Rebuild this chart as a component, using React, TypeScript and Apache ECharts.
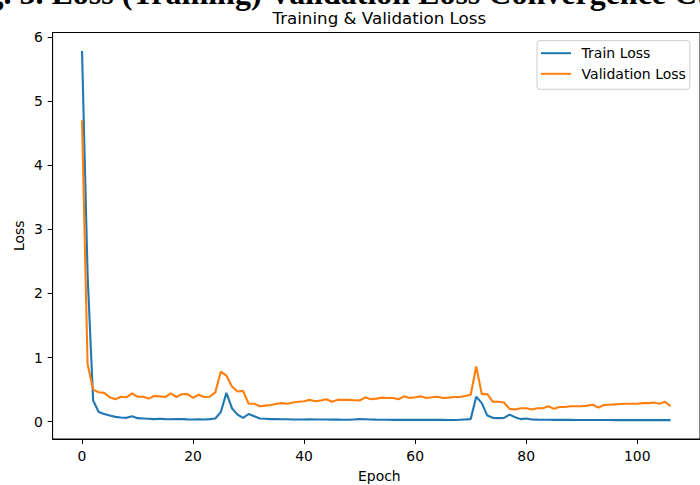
import React, { useEffect, useRef } from "react";
import * as echarts from "echarts";

const epochs: number[] = Array.from({ length: 107 }, (_, i) => i);

const trainLoss: number[] = [
  5.78, 2.3, 0.33, 0.15, 0.12, 0.095, 0.075, 0.065, 0.06, 0.085,
  0.055, 0.05, 0.045, 0.04, 0.045, 0.04, 0.038, 0.04, 0.04, 0.036,
  0.035, 0.036, 0.033, 0.04, 0.05, 0.15, 0.45, 0.21, 0.11, 0.06,
  0.12, 0.085, 0.05, 0.045, 0.04, 0.04, 0.038, 0.037, 0.035, 0.035,
  0.034, 0.038, 0.035, 0.033, 0.033, 0.032, 0.032, 0.031, 0.03, 0.035,
  0.04, 0.038, 0.035, 0.032, 0.03, 0.03, 0.029, 0.03, 0.029, 0.028,
  0.029, 0.028, 0.028, 0.029, 0.028, 0.028, 0.027, 0.027, 0.03, 0.035,
  0.04, 0.39, 0.29, 0.095, 0.06, 0.055, 0.06, 0.11, 0.07, 0.04,
  0.05, 0.035, 0.032, 0.03, 0.03, 0.029, 0.028, 0.028, 0.028, 0.027,
  0.027, 0.027, 0.026, 0.026, 0.026, 0.026, 0.025, 0.025, 0.025, 0.025,
  0.025, 0.025, 0.024, 0.024, 0.024, 0.024, 0.024,
];

const valLoss: number[] = [
  4.7, 0.9, 0.5, 0.46, 0.45, 0.38, 0.35, 0.39, 0.38, 0.44,
  0.39, 0.39, 0.36, 0.4, 0.395, 0.385, 0.44, 0.385, 0.43, 0.43,
  0.37, 0.42, 0.385, 0.39, 0.457, 0.78, 0.72, 0.55, 0.47, 0.48,
  0.28, 0.28, 0.24, 0.25, 0.26, 0.28, 0.29, 0.28, 0.3, 0.31,
  0.32, 0.34, 0.32, 0.33, 0.35, 0.31, 0.34, 0.34, 0.34, 0.335,
  0.33, 0.38, 0.35, 0.36, 0.375, 0.37, 0.37, 0.35, 0.395, 0.37,
  0.38, 0.395, 0.37, 0.38, 0.39, 0.37, 0.375, 0.385, 0.385, 0.4,
  0.42, 0.86, 0.43, 0.43, 0.31, 0.31, 0.3, 0.2, 0.19, 0.21,
  0.21, 0.19, 0.21, 0.21, 0.24, 0.2, 0.23, 0.23, 0.24, 0.24,
  0.24, 0.25, 0.265, 0.22, 0.26, 0.265, 0.27, 0.275, 0.28, 0.28,
  0.28, 0.29, 0.29, 0.3, 0.28, 0.31, 0.24,
];

const xTicks: number[] = [0, 20, 40, 60, 80, 100];
const yTicks: number[] = [0, 1, 2, 3, 4, 5, 6];

const seriesNames = ["Train Loss", "Validation Loss"];
const chartTitle = "Training & Validation Loss";
const xLabel = "Epoch";
const yLabel = "Loss";
const caption = "Fig. 5. Loss (Training) Validation Loss Convergence Curves";

const FONT = '"DejaVu Sans", sans-serif';

export default function App() {
  const ref = useRef<HTMLDivElement>(null);

  useEffect(() => {
    if (!ref.current) return;
    const chart = echarts.init(ref.current, null, { renderer: "svg" });
    const gridLeft = 52.6;
    const gridTop = 32.5;
    const gridW = 653.4;
    const gridH = 406.5;
    chart.setOption({
      animation: false,
      backgroundColor: "#ffffff",
      textStyle: { fontFamily: FONT },
      grid: {
        left: gridLeft,
        top: gridTop,
        width: gridW,
        height: gridH,
        show: true,
        borderColor: "#000000",
        borderWidth: 1,
        backgroundColor: "transparent",
        containLabel: false,
      },
      xAxis: {
        type: "value",
        min: -5.3,
        max: 111.3,
        splitLine: { show: false },
        axisLine: { show: true, onZero: false, lineStyle: { color: "#000", width: 1 } },
        axisTick: {
          show: true,
          inside: false,
          length: 4.9,
          customValues: xTicks,
          lineStyle: { color: "#000", width: 1 },
        },
        axisLabel: {
          customValues: xTicks,
          margin: 9.7,
          color: "#000",
          fontSize: 13.9,
          fontFamily: FONT,
        },
      },
      yAxis: {
        type: "value",
        min: -0.27,
        max: 6.07,
        splitLine: { show: false },
        axisLine: { show: true, onZero: false, lineStyle: { color: "#000", width: 1 } },
        axisTick: {
          show: true,
          inside: false,
          length: 4.9,
          customValues: yTicks,
          lineStyle: { color: "#000", width: 1 },
        },
        axisLabel: {
          customValues: yTicks,
          margin: 9.7,
          color: "#000",
          fontSize: 13.9,
          fontFamily: FONT,
        },
      },
      legend: {
        data: seriesNames,
        orient: "vertical",
        left: 537,
        top: 40.7,
        icon: "rect",
        itemWidth: 30,
        itemHeight: 2,
        itemGap: 3.6,
        padding: [4, 4, 7, 4],
        borderColor: "#cccccc",
        borderWidth: 1,
        borderRadius: 3,
        backgroundColor: "rgba(255,255,255,0.8)",
        selectedMode: false,
        textStyle: {
          fontFamily: FONT,
          fontSize: 14,
          color: "#000",
          lineHeight: 17,
          padding: [0, 0, 0, 5.6],
        },
      },
      graphic: [
        {
          type: "text",
          x: -41,
          y: -7,
          silent: true,
          style: {
            text: caption,
            fontFamily: '"Liberation Serif", serif',
            fontWeight: "bold",
            fontSize: 32,
            fill: "#000",
            align: "left",
            verticalAlign: "middle",
          },
        },
        {
          type: "text",
          x: gridLeft + gridW / 2,
          y: 18,
          silent: true,
          style: {
            text: chartTitle,
            fontFamily: FONT,
            fontSize: 16.7,
            fill: "#000",
            align: "center",
            verticalAlign: "middle",
          },
        },
        {
          type: "text",
          x: gridLeft + gridW / 2,
          y: 476,
          silent: true,
          style: {
            text: xLabel,
            fontFamily: FONT,
            fontSize: 13.9,
            fill: "#000",
            align: "center",
            verticalAlign: "middle",
          },
        },
        {
          type: "text",
          x: 19,
          y: gridTop + gridH / 2,
          rotation: Math.PI / 2,
          silent: true,
          style: {
            text: yLabel,
            fontFamily: FONT,
            fontSize: 13.9,
            fill: "#000",
            align: "center",
            verticalAlign: "middle",
          },
        },
      ],
      series: [
        {
          name: seriesNames[0],
          type: "line",
          data: epochs.map((e, i) => [e, trainLoss[i]]),
          showSymbol: false,
          symbol: "none",
          color: "#1f77b4",
          lineStyle: { color: "#1f77b4", width: 2.1 },
          z: 2,
        },
        {
          name: seriesNames[1],
          type: "line",
          data: epochs.map((e, i) => [e, valLoss[i]]),
          showSymbol: false,
          symbol: "none",
          color: "#ff7f0e",
          lineStyle: { color: "#ff7f0e", width: 2.1 },
          z: 3,
        },
      ],
    });
    return () => chart.dispose();
  }, []);

  return (
    <div
      ref={ref}
      style={{ position: "fixed", left: 0, top: 0, width: 700, height: 485, background: "#fff" }}
    />
  );
}
